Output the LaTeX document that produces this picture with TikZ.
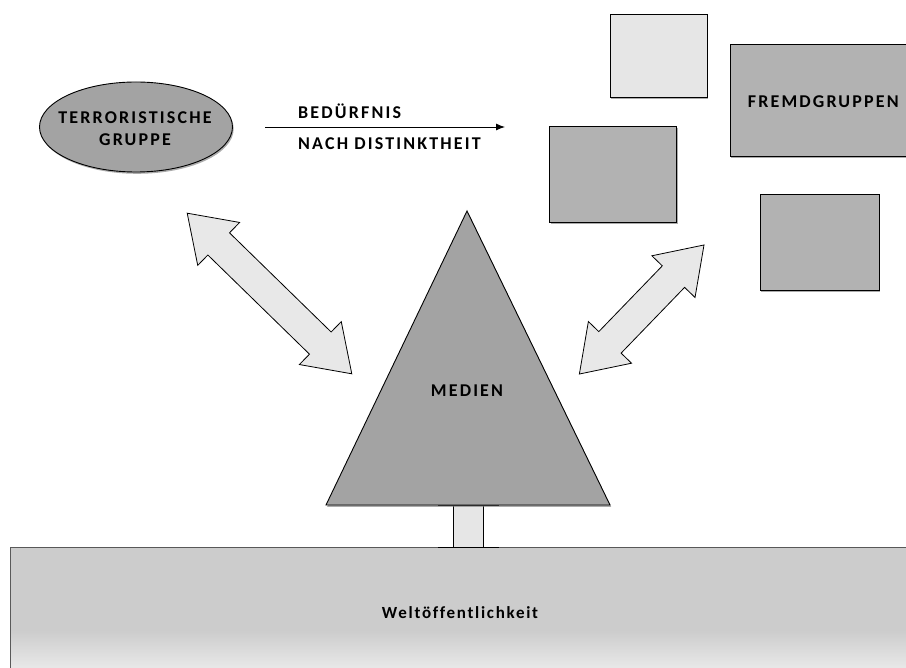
\documentclass[tikz,border=0pt]{standalone}
\usepackage{fontspec}
\setmainfont{Carlito}
\newfontfamily\spacedfont[LetterSpace=12]{Carlito}
\newfontfamily\groundfont[LetterSpace=10, Ligatures=NoCommon]{Carlito}
\usetikzlibrary{shapes.geometric,shadows,arrows.meta}

\definecolor{darkfill}{HTML}{A3A3A3}
\definecolor{boxfill}{HTML}{B2B2B2}
\definecolor{lightfill}{HTML}{E6E6E6}
\definecolor{arrowfill}{HTML}{E8E8E8}
\definecolor{groundfill}{HTML}{CCCCCC}

\tikzset{
  boxshadow/.style={drop shadow={shadow xshift=1.2pt, shadow yshift=-1.8pt, fill=black!55, opacity=0.6}},
  grpbox/.style={draw, line width=0.9pt, fill=boxfill, boxshadow, inner sep=0pt},
  caps/.style={font=\spacedfont\bfseries\fontsize{18}{22.3}\selectfont, align=center, inner sep=0pt},
  bigarrow/.style={draw, line width=0.8pt, fill=arrowfill, line join=miter},
}

\begin{document}
\begin{tikzpicture}[x=1pt, y=-1pt]
    \useasboundingbox (0,0) rectangle (906,668);

    % Weltoeffentlichkeit
    \fill[groundfill] (10.7,547) rectangle (912,668);
    \shade[top color=groundfill, bottom color=black!9] (10.7,630) rectangle (912,668);
    \draw[line width=1pt, black!65] (912,547) -- (10.7,547) -- (10.7,670);
    \node[font=\groundfont\bfseries\fontsize{17}{20}\selectfont, anchor=base, inner sep=0pt] (welt) at (460,618) {Weltöffentlichkeit};

    % Medien
    \draw[fill=lightfill, line width=0.9pt] (453,505) rectangle (483,547);
    \draw[line width=0.9pt] (438,505) -- (499,505);
    \draw[line width=0.9pt] (438,547) -- (499,547);
    \draw[fill=darkfill, line width=0.9pt, boxshadow] (467,211) -- (610,505) -- (326,505) -- cycle;
    \node[caps] (medien) at (467,390.8) {MEDIEN};

    % terroristische Gruppe
    \node[ellipse, draw, line width=0.9pt, fill=darkfill, boxshadow, minimum width=193pt, minimum height=90pt, inner sep=0pt] (grp) at (136,127) {};
    \node[caps] (grptext) at (135,128.4) {TERRORISTISCHE\\GRUPPE};

    \coordinate (need0) at (265,127);
    \coordinate (need1) at (505,127);
    \draw[-{Latex[length=9pt, width=7pt]}, line width=0.9pt] (need0) -- (need1);
    \node[caps, anchor=base west] (need) at (298,119) {BEDÜRFNIS};
    \node[caps, anchor=base west] (dist) at (298,149.3) {NACH DISTINKTHEIT};

    % Fremdgruppen
    \node[grpbox, fill=lightfill, minimum width=97pt, minimum height=83pt] (fg1) at (658.5,55.5) {};
    \node[grpbox, minimum width=186pt, minimum height=112pt] (fg2) at (823,100.2) {};
    \node[caps] (fgtext) at (823.3,101.7) {FREMDGRUPPEN};
    \node[grpbox, minimum width=127pt, minimum height=96pt] (fg3) at (613.3,174.5) {};
    \node[grpbox, minimum width=119pt, minimum height=96pt] (fg4) at (819.7,242.2) {};

    % Doppelpfeile
    \begin{scope}[shift={(269.5,293.5)}, rotate=-44.3]
        \draw[bigarrow] (-115,0) -- (-71,30) -- (-71,15.5) -- (71,15.5) -- (71,30) -- (115,0)
            -- (71,-30) -- (71,-15.5) -- (-71,-15.5) -- (-71,-30) -- cycle;
    \end{scope}
    \begin{scope}[shift={(641.7,309.5)}, rotate=46]
        \draw[bigarrow] (-89.7,0) -- (-45.7,30) -- (-45.7,15.5) -- (45.7,15.5) -- (45.7,30) -- (89.7,0)
            -- (45.7,-30) -- (45.7,-15.5) -- (-45.7,-15.5) -- (-45.7,-30) -- cycle;
    \end{scope}
\end{tikzpicture}
\end{document}
